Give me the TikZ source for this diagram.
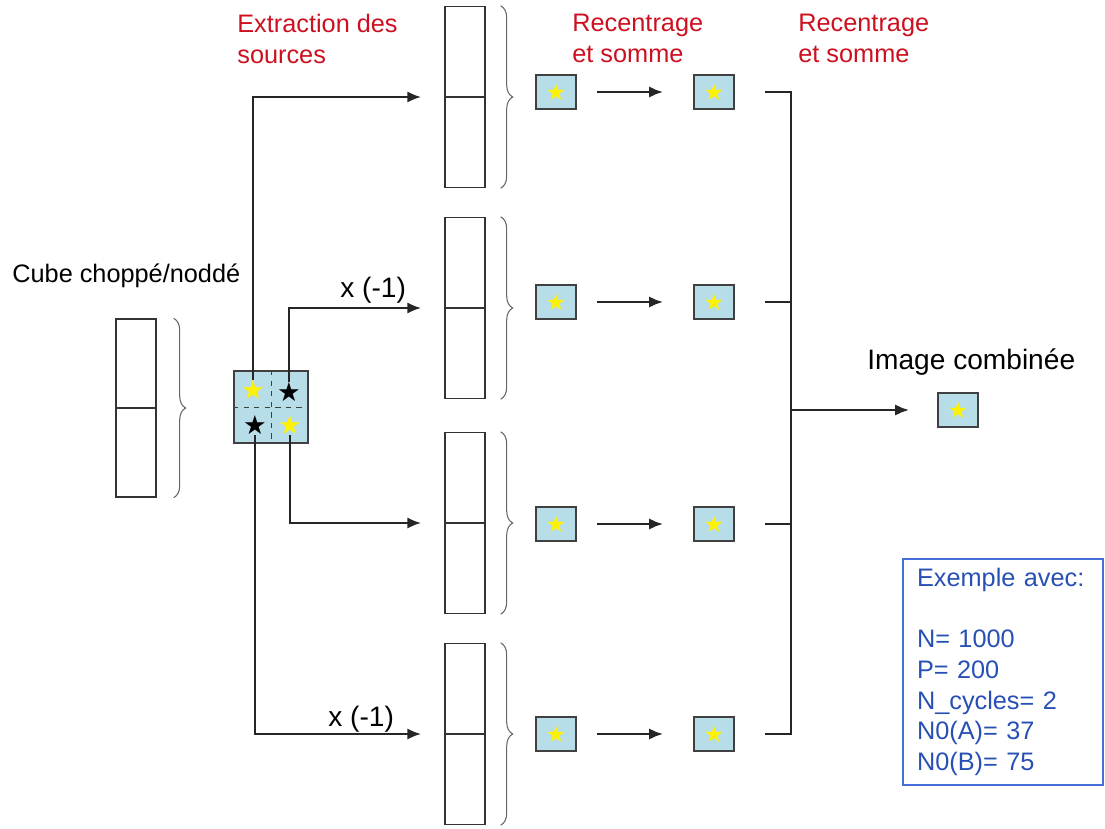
\documentclass[tikz,border=0pt]{standalone}
\usepackage{fontspec}
\setmainfont{Liberation Sans}
\newfontfamily\symfont{DejaVu Sans}
\usetikzlibrary{decorations.pathreplacing,arrows.meta}
\definecolor{boxfill}{RGB}{183,221,232}
\definecolor{titlered}{RGB}{204,16,32}
\definecolor{exblue}{RGB}{40,80,180}
\definecolor{exframe}{RGB}{70,110,215}
\newcommand{\ystar}{{\symfont\fontsize{13}{13}\selectfont\textcolor{yellow}{★}}}
\newcommand{\qstar}[1]{{\symfont\fontsize{15}{15}\selectfont\textcolor{#1}{★}}}

\begin{document}
\begin{tikzpicture}[x=0.02cm,y=-0.02cm,>={Latex[length=8pt,width=6.5pt]},font=\fontsize{14.4}{17.4}\selectfont,
    flow/.style={line width=1.5pt,black!85},
    stack/.style={draw=black!80,line width=0.8pt,minimum width=0.8cm,minimum height=3.62cm,inner sep=0pt,
        path picture={\draw[black!80,line width=0.8pt] (path picture bounding box.west) -- (path picture bounding box.east);}},
    curly/.style={draw=black!60,line width=0.6pt,decorate,decoration={brace,amplitude=0.24cm}},
    sbox/.style={draw=black!75,line width=1pt,fill=boxfill,minimum width=0.8cm,minimum height=0.68cm,inner sep=0pt},
    redtitle/.style={titlered,anchor=north west,align=left,inner sep=0pt},
    mult/.style={anchor=base west,inner sep=0pt,font=\fontsize{16}{16}\selectfont}]
        \useasboundingbox (0,0) rectangle (1105,828);
        \node[anchor=base west,inner sep=0pt] (cubelbl) at (12,282) {Cube choppé/noddé};
        \node[stack,minimum height=3.56cm] (cube) at (136,408) {};
        \draw[curly] ([xshift=0.34cm]cube.north east) -- ([xshift=0.34cm]cube.south east);
        \node[sbox,minimum width=1.48cm,minimum height=1.44cm] (quad) at (271,407) {};
        \draw[dashed,black!75] (quad.north) -- (quad.south);
        \draw[dashed,black!75] (quad.west) -- (quad.east);
        \node[inner sep=0pt] (qa) at (253,390) {\qstar{yellow}};
        \node[inner sep=0pt] (qb) at (289,392) {\qstar{black}};
        \node[inner sep=0pt] (qc) at (255,425) {\qstar{black}};
        \node[inner sep=0pt] (qd) at (290,425) {\qstar{yellow}};
        \node[redtitle] (t1) at (237,14) {Extraction des\\sources};
        \node[redtitle] (t2) at (572,14) {Recentrage\\et somme};
        \node[redtitle] (t3) at (798,14) {Recentrage\\et somme};
        \node[stack] (s1) at (465,97) {};
        \node[stack] (s2) at (465,308) {};
        \node[stack] (s3) at (465,523) {};
        \node[stack] (s4) at (465,734) {};
        \draw[curly] ([xshift=0.3cm]s1.north east) -- ([xshift=0.3cm]s1.south east);
        \draw[curly] ([xshift=0.3cm]s2.north east) -- ([xshift=0.3cm]s2.south east);
        \draw[curly] ([xshift=0.3cm]s3.north east) -- ([xshift=0.3cm]s3.south east);
        \draw[curly] ([xshift=0.3cm]s4.north east) -- ([xshift=0.3cm]s4.south east);
        \draw[flow,->,shorten >=0.46cm] (qa) |- (s1.west);
        \draw[flow,->,shorten >=0.46cm] (qb) |- (s2.west);
        \draw[flow,->,shorten >=0.46cm] (qd) |- (s3.west);
        \draw[flow,->,shorten >=0.46cm] (qc) |- (s4.west);
        \node[mult] (m2) at (340,297) {x (-1)};
        \node[mult] (m4) at (328,726) {x (-1)};
        \node[sbox] (a1) at (556,92) {\ystar};
        \node[sbox] (a2) at (556,302) {\ystar};
        \node[sbox] (a3) at (556,524) {\ystar};
        \node[sbox] (a4) at (556,734) {\ystar};
        \node[sbox] (b1) at (714,92) {\ystar};
        \node[sbox] (b2) at (714,302) {\ystar};
        \node[sbox] (b3) at (714,524) {\ystar};
        \node[sbox] (b4) at (714,734) {\ystar};
        \draw[flow,->,shorten <=0.4cm,shorten >=0.6cm] (a1) -- (b1);
        \draw[flow,->,shorten <=0.4cm,shorten >=0.6cm] (a2) -- (b2);
        \draw[flow,->,shorten <=0.4cm,shorten >=0.6cm] (a3) -- (b3);
        \draw[flow,->,shorten <=0.4cm,shorten >=0.6cm] (a4) -- (b4);
        \coordinate (jb) at (791,734);
        \draw[flow] ([xshift=0.6cm]b1.east) -| (jb) -- ([xshift=0.6cm]b4.east);
        \draw[flow] ([xshift=0.6cm]b2.east) -- (b2 -| jb);
        \draw[flow] ([xshift=0.6cm]b3.east) -- (b3 -| jb);
        \node[sbox] (out) at (958,410) {\ystar};
        \node[mult] (outlbl) at (867,369) {Image combinée};
        \draw[flow,->,shorten >=0.56cm] (jb |- out) -- (out);
        \node[draw=exframe,line width=1.3pt,text=exblue,minimum width=4cm,minimum height=4.52cm,text width=3.44cm,align=left,inner sep=0pt] (ex) at (1003,672) {Exemple avec:\\[17.4pt]N= 1000\\P= 200\\N\_cycles= 2\\N0(A)= 37\\N0(B)= 75};
\end{tikzpicture}
\end{document}
